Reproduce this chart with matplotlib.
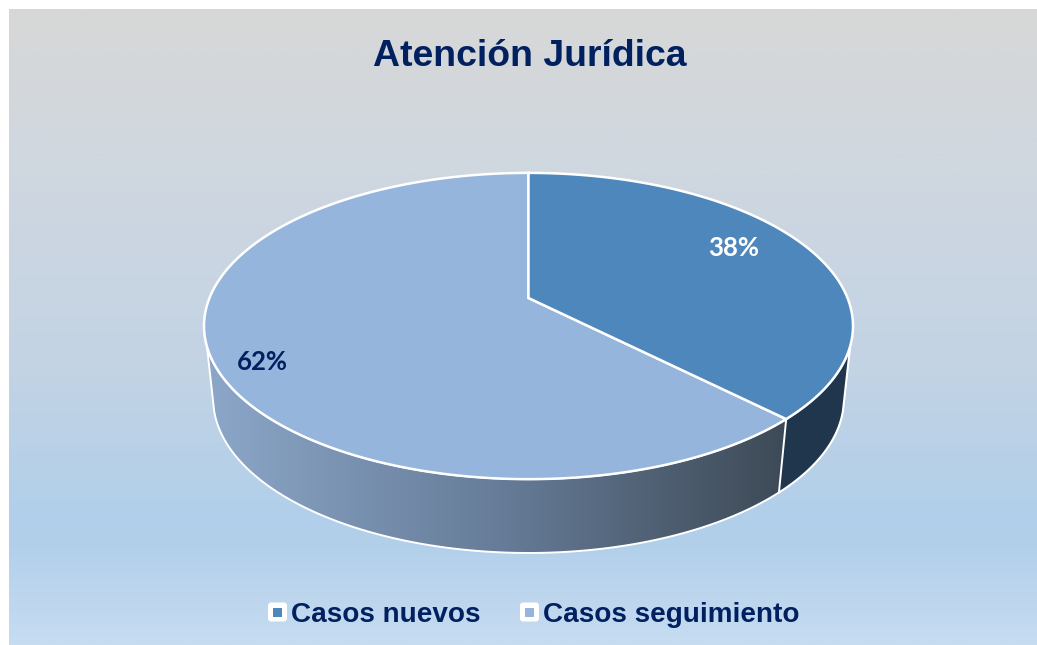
"""Atencion Juridica: 3D looking pie on a gradient panel, drawn in pixel coords."""
import numpy as np
import matplotlib
matplotlib.use('Agg')
import matplotlib.pyplot as plt
from matplotlib.colors import LinearSegmentedColormap
from matplotlib.patches import FancyBboxPatch, Polygon, Rectangle

title = 'Atención Jurídica'
categories = ['Casos nuevos', 'Casos seguimiento']
values = [37.6, 62.4]
labels = ['38%', '62%']

NAVY = '#002060'
TOP_COLORS = ['#4E87BC', '#95B5DC']
SIDE_DARK = '#1F364D'

W, H = 1037, 645
fig = plt.figure(figsize=(W / 100, H / 100), dpi=100, facecolor='white')
ax = fig.add_axes([0, 0, 1, 1])
ax.set_xlim(0, W)
ax.set_ylim(H, 0)
ax.axis('off')

# panel background
bg_pos = [0, 0.26, 0.58, 0.80, 0.85, 1]
bg_col = ['#D7D7D7', '#CFD7E0', '#C2D3E5', '#B1CFEA', '#B3D0EB', '#C6DCF1']
bg_cmap = LinearSegmentedColormap.from_list('bg', list(zip(bg_pos, bg_col)))
ax.imshow(np.linspace(0, 1, 256).reshape(-1, 1), cmap=bg_cmap, aspect='auto',
          extent=[9, W, H, 9], zorder=0)

# perspective disc: the pie centre sits above the middle of the ellipse
CX = 528.5
K = 0.183


def rim(theta, y0, w, h):
    """theta runs clockwise from 12 o'clock, in radians"""
    d = 1 + K * np.cos(theta)
    return CX + w * np.sin(theta) / d, y0 - h * np.cos(theta) / d


def wall_poly(t0, t1, top_cut=0, low_cut=0):
    """side wall between two angles, with the rims cut off above the given y"""
    t = np.linspace(t0, t1, 500)
    tx, ty = rim(t, **top)
    bx, by = rim(t, **low)
    keep_t = ty >= top_cut
    keep_b = by >= low_cut
    return np.column_stack([np.r_[tx[keep_t], bx[keep_b][::-1]],
                            np.r_[ty[keep_t], by[keep_b][::-1]]])


top = dict(y0=298, w=319, h=148)
low = dict(y0=370.6, w=310, h=149)

cuts = np.cumsum([0] + values) / sum(values) * 2 * np.pi
cut = cuts[1]

# side wall, the back of the rim is hidden so cut both rims near the widest point
wall_cmap = LinearSegmentedColormap.from_list('wall', ['#8CA7C9', '#667C98', '#3C4854'])
wall_patch = Polygon(wall_poly(np.pi * 0.3, np.pi * 1.7, 346, 410), closed=True,
                     fc='none', ec='white', lw=1.4, zorder=3)
ax.add_patch(wall_patch)
img = ax.imshow(np.linspace(0, 1, 256).reshape(1, -1), cmap=wall_cmap, aspect='auto',
                extent=[205, 795, 560, 300], zorder=2)
img.set_clip_path(wall_patch)

# dark part of the wall, first slice
ax.add_patch(Polygon(wall_poly(np.pi * 0.3, cut, 346, 410), closed=True,
                     fc=SIDE_DARK, ec='white', lw=1.4, zorder=3))

# top faces
for i in [1, 0]:
    t = np.linspace(cuts[i], cuts[i + 1], 400)
    x, y = rim(t, **top)
    ax.add_patch(Polygon(np.column_stack([np.r_[CX, x], np.r_[top['y0'], y]]),
                         closed=True, fc=TOP_COLORS[i], ec='white', lw=1.8, zorder=4))

ax.set_xlim(0, W)
ax.set_ylim(H, 0)

# data labels
ax.text(734, 248.5, labels[0], color='white', fontsize=18.5, fontweight='bold',
        family='Lato', ha='center', va='center', zorder=5)
ax.text(262, 362.5, labels[1], color=NAVY, fontsize=18.5, fontweight='bold',
        family='Lato', ha='center', va='center', zorder=5)

ax.text(529.5, 57, title, color=NAVY, fontsize=26.9, fontweight='bold',
        family='Liberation Sans', ha='center', va='center', zorder=5)

# legend
for name, col, mx, tx_ in zip(categories, TOP_COLORS, [277.5, 529.5], [291, 543]):
    ax.add_patch(FancyBboxPatch((mx - 7.5, 604.5), 15, 15, boxstyle='round,pad=2,rounding_size=3',
                                fc='white', ec='none', zorder=5))
    ax.add_patch(Rectangle((mx - 4.5, 607.5), 9, 9, fc=col, ec='none', zorder=6))
    ax.text(tx_, 614.5, name, color=NAVY, fontsize=20.1, fontweight='bold',
            family='Liberation Sans', ha='left', va='center', zorder=6)

fig.savefig('out.png', dpi=100)
